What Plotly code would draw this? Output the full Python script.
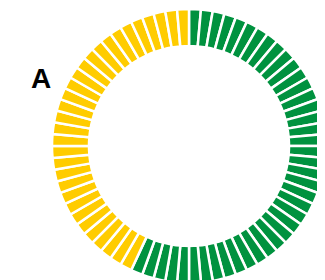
import plotly.graph_objects as go

# Data: a ring of equal segments, split into two groups
group_names = ["Green", "Yellow"]
segment_counts = [41, 31]
group_colors = ["#00923F", "#FFCC00"]
panel_label = "A"

labels, values, colors = [], [], []
for name, count, color in zip(group_names, segment_counts, group_colors):
    for i in range(count):
        labels.append(f"{name} {i + 1}")
        values.append(1)
        colors.append(color)

W, H = 325, 280
fig = go.Figure(
    go.Pie(
        labels=labels,
        values=values,
        sort=False,
        direction="clockwise",
        rotation=0,
        hole=0.73,
        marker=dict(colors=colors, line=dict(color="white", width=2.5)),
        textinfo="none",
        hoverinfo="skip",
        showlegend=False,
        domain=dict(x=[44 / W, 318 / W], y=[5 / H, 279 / H]),
    )
)

fig.add_annotation(
    x=32.5 / W, y=1 - 70 / H, xref="paper", yref="paper",
    text=panel_label, showarrow=False,
    font=dict(family="Liberation Sans, Arial, sans-serif", size=28, color="black", weight="bold"),
    xanchor="center", yanchor="middle",
)

fig.update_layout(
    width=W, height=H,
    margin=dict(l=0, r=0, t=0, b=0),
    paper_bgcolor="white", plot_bgcolor="white",
)

fig.write_html("out.html")
